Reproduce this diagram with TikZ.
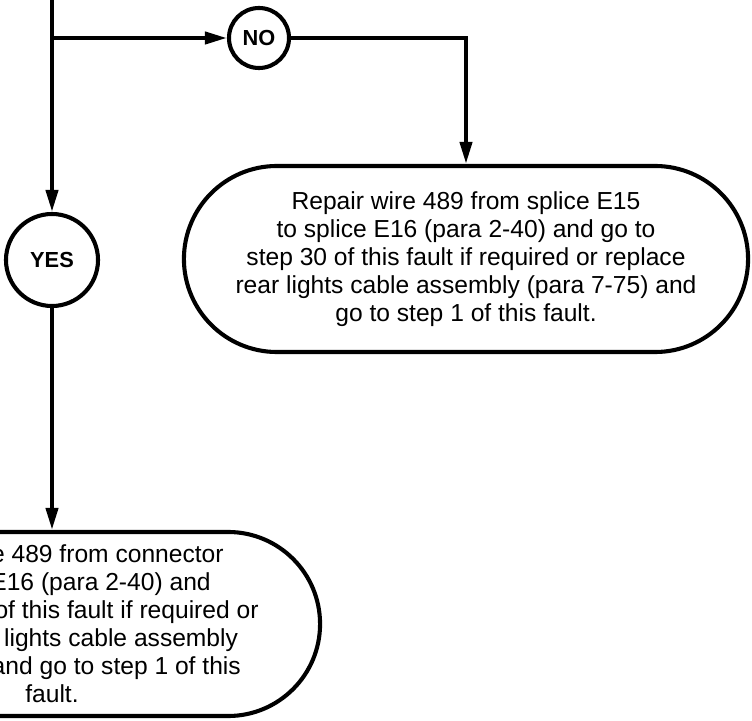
\documentclass[tikz,border=0pt]{standalone}
\usepackage{fontspec}
\setmainfont{Liberation Sans}
\usetikzlibrary{shapes.misc,arrows.meta,positioning}

\begin{document}
\begin{tikzpicture}[
    x=0.025cm, y=-0.025cm,
    line width=2.9pt,
    answer/.style={draw, circle, inner sep=0pt, font=\fontsize{15.5}{18}\selectfont\bfseries},
    action/.style={draw, rounded rectangle, inner sep=0pt},
    actiontext/.style={align=center, inner sep=0pt, font=\fontsize{17.5}{19.9}\selectfont},
    arr/.style={-{Triangle[length=5.5mm, width=3mm]}},
]
\clip (0,0) rectangle (752,721);

% Branch point
\coordinate (top) at (52,-10);
\coordinate (split) at (52,38);

% Answers
\node[answer, minimum size=1.5cm] (no) at (259,38) {NO};
\node[answer, minimum size=2.3cm] (yes) at (52,260) {YES};

% Actions
\node[action, minimum width=14.1cm, minimum height=4.65cm] (splicefix) at (466,259) {};
\node[actiontext] (splicefixtext) at (splicefix) {Repair wire 489 from splice E15\\to splice E16 (para 2-40) and go to\\step 30 of this fault if required or replace\\rear lights cable assembly (para 7-75) and\\go to step 1 of this fault.};

\node[action, minimum width=13.4cm, minimum height=4.6cm] (connfix) at (52,624) {};
\node[actiontext] (connfixtext) at (connfix) {Repair wire 489 from connector\\to splice E16 (para 2-40) and\\go to step 30 of this fault if required or\\replace rear lights cable assembly\\(para 7-75) and go to step 1 of this\\fault.};

% Arrows
\draw[arr] (top) -- (yes);
\draw[arr] (split) -- (no);
\draw[arr] (no) -| (splicefix);
\draw[arr] (yes) -- (connfix);
\end{tikzpicture}
\end{document}
